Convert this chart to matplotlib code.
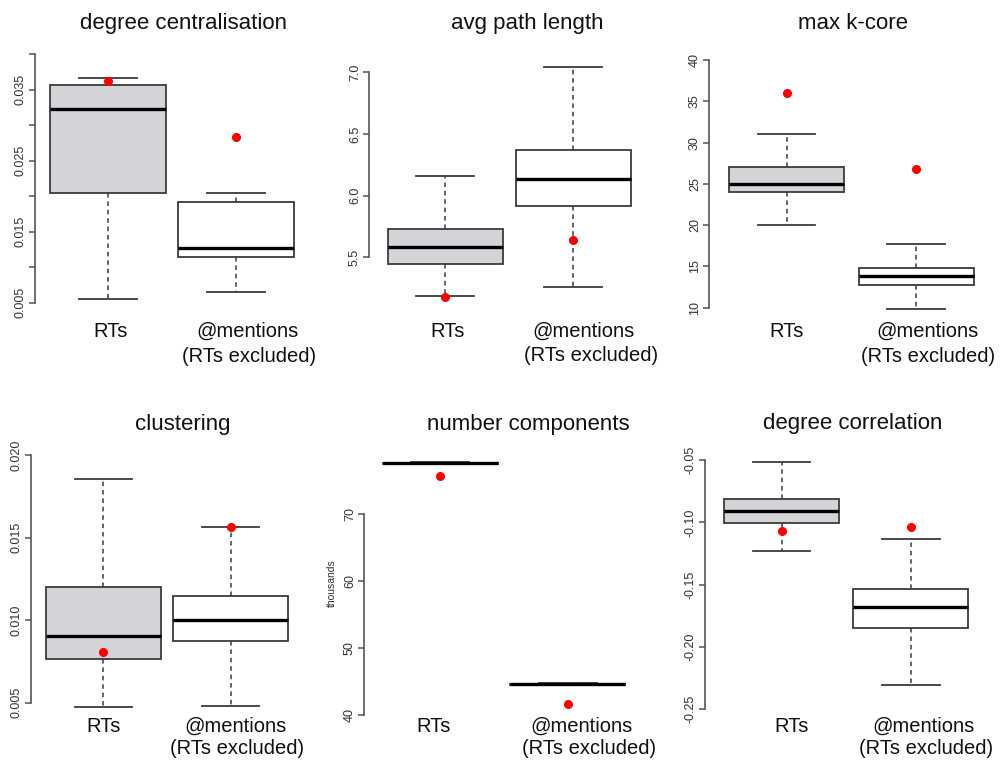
import matplotlib
matplotlib.use('Agg')
import matplotlib.pyplot as plt

plt.rcParams['font.family'] = ['Liberation Sans', 'DejaVu Sans']

W, H = 1001, 761

group_labels = ['RTs', '@mentions', '(RTs excluded)']

# five-number summaries: lower whisker, q1, median, q3, upper whisker
degcent_rts = [0.0055, 0.0205, 0.0323, 0.0357, 0.0366]
degcent_men = [0.0065, 0.0115, 0.0127, 0.0192, 0.0204]
degcent_obs = [0.0363, 0.0284]   # observed value (red dot), RTs / @mentions

pathlen_rts = [5.19, 5.445, 5.583, 5.729, 6.161]
pathlen_men = [5.261, 5.918, 6.135, 6.367, 7.04]
pathlen_obs = [5.18, 5.642]

kcore_rts = [20, 24, 25, 27, 31]
kcore_men = [9.8, 12.8, 13.8, 14.8, 17.7]
kcore_obs = [36, 26.8]

clust_rts = [0.00473, 0.00764, 0.00903, 0.0120, 0.01858]
clust_men = [0.00479, 0.00876, 0.01004, 0.01149, 0.01565]
clust_obs = [0.00806, 0.01567]

# number components, in thousands
ncomp_rts = [77.35, 77.42, 77.5, 77.58, 77.65]
ncomp_men = [44.45, 44.52, 44.58, 44.64, 44.7]
ncomp_obs = [75.6, 41.6]

degcorr_rts = [-0.1227, -0.1006, -0.0908, -0.0809, -0.0514]
degcorr_men = [-0.2304, -0.1846, -0.1679, -0.1537, -0.1133]
degcorr_obs = [-0.1068, -0.1039]

degcent_ticks = [0.005, 0.010, 0.015, 0.020, 0.025, 0.030, 0.035, 0.040]
degcent_ticklabels = ['0.005', '', '0.015', '', '0.025', '', '0.035', '']
pathlen_ticks = [5.5, 6.0, 6.5, 7.0]
pathlen_ticklabels = ['5.5', '6.0', '6.5', '7.0']
kcore_ticks = [10, 15, 20, 25, 30, 35, 40]
kcore_ticklabels = ['10', '15', '20', '25', '30', '35', '40']
clust_ticks = [0.005, 0.010, 0.015, 0.020]
clust_ticklabels = ['0.005', '0.010', '0.015', '0.020']
ncomp_ticks = [40, 50, 60, 70]
ncomp_ticklabels = ['40', '50', '60', '70']
degcorr_ticks = [-0.25, -0.20, -0.15, -0.10, -0.05]
degcorr_ticklabels = ['-0.25', '-0.20', '-0.15', '-0.10', '-0.05']

# pixel layout of each panel (the reference is a collage of R boxplots)
panels = [
    dict(title='degree centralisation', rts=degcent_rts, men=degcent_men, obs=degcent_obs,
         ticks=degcent_ticks, ticklabels=degcent_ticklabels,
         axis_x=35, map=(0.040, 54.3, 0.005, 302.7), c=(107.5, 235.5), bw=116,
         top=45, bottom=320, title_xy=(183, 29),
         lab_xy=[(111, 337), (248, 337), (249, 362)]),
    dict(title='avg path length', rts=pathlen_rts, men=pathlen_men, obs=pathlen_obs,
         ticks=pathlen_ticks, ticklabels=pathlen_ticklabels,
         axis_x=369.3, map=(7.0, 72.3, 5.5, 257.3), c=(445, 573), bw=115,
         top=45, bottom=320, title_xy=(527.5, 29),
         lab_xy=[(448, 337), (584, 337), (591, 361)]),
    dict(title='max k-core', rts=kcore_rts, men=kcore_men, obs=kcore_obs,
         ticks=kcore_ticks, ticklabels=kcore_ticklabels,
         axis_x=709.3, map=(40, 60, 10, 307.7), c=(786.7, 916), bw=115,
         top=45, bottom=320, title_xy=(852.5, 29),
         lab_xy=[(786.7, 337), (928, 337), (928, 362)]),
    dict(title='clustering', rts=clust_rts, men=clust_men, obs=clust_obs,
         ticks=clust_ticks, ticklabels=clust_ticklabels,
         axis_x=31, map=(0.020, 455.3, 0.005, 702.7), c=(103.3, 230.5), bw=115,
         top=440, bottom=715, title_xy=(182.5, 430),
         lab_xy=[(103.3, 732), (235, 732), (236.7, 754)]),
    dict(title='number components', rts=ncomp_rts, men=ncomp_men, obs=ncomp_obs,
         ticks=ncomp_ticks, ticklabels=ncomp_ticklabels,
         axis_x=364.3, map=(70, 513.7, 40, 715), c=(440.2, 567.8), bw=115,
         top=440, bottom=715, title_xy=(528.7, 430),
         lab_xy=[(433.3, 732), (581.7, 732), (589, 754)]),
    dict(title='degree correlation', rts=degcorr_rts, men=degcorr_men, obs=degcorr_obs,
         ticks=degcorr_ticks, ticklabels=degcorr_ticklabels,
         axis_x=705, map=(-0.05, 460.3, -0.25, 709), c=(781.7, 910.8), bw=115,
         top=440, bottom=715, title_xy=(852.5, 429),
         lab_xy=[(792, 732), (923, 732), (925.8, 754)]),
]

EDGE = '#3c3c3c'
FILLS = ['#d4d3d8', 'white']

fig = plt.figure(figsize=(W / 100, H / 100), dpi=100)


def fx(x):
    return x / W


def fy(y):
    return 1 - y / H


def draw_panel(p):
    left = p['axis_x']
    right = left + 290
    ax = fig.add_axes([fx(left), fy(p['bottom']), (right - left) / W, (p['bottom'] - p['top']) / H])
    ax.patch.set_alpha(0)

    # linear mapping pixel -> value, taken from two tick marks
    va, ya, vb, yb = p['map']
    slope = (vb - va) / (yb - ya)
    ax.set_ylim(va + (p['bottom'] - ya) * slope, va + (p['top'] - ya) * slope)
    c1, c2 = p['c']
    ax.set_xlim(1 + (left - c1) / (c2 - c1), 1 + (right - c1) / (c2 - c1))
    width = p['bw'] / (c2 - c1)

    stats = []
    for s in (p['rts'], p['men']):
        stats.append(dict(whislo=s[0], q1=s[1], med=s[2], q3=s[3], whishi=s[4], fliers=[]))
    parts = ax.bxp(stats, positions=[1, 2], widths=width, capwidths=width / 2,
                   patch_artist=True, showfliers=False,
                   boxprops=dict(edgecolor=EDGE, linewidth=1.3),
                   medianprops=dict(color='black', linewidth=2.4),
                   whiskerprops=dict(color=EDGE, linewidth=1.1, linestyle=(0, (3, 2.5))),
                   capprops=dict(color=EDGE, linewidth=1.3))
    for box, col in zip(parts['boxes'], FILLS):
        box.set_facecolor(col)

    ax.plot([1, 2], p['obs'], 'o', color='#ff0000', markersize=5.5, zorder=5, clip_on=False)

    for side in ('top', 'right', 'bottom'):
        ax.spines[side].set_visible(False)
    ax.spines['left'].set_bounds(min(p['ticks']), max(p['ticks']))
    ax.spines['left'].set_color('#555555')
    ax.spines['left'].set_linewidth(1.2)
    ax.set_xticks([])
    ax.set_yticks(p['ticks'])
    ax.set_yticklabels(p['ticklabels'], rotation=90, va='center')
    ax.tick_params(axis='y', length=4, width=1.1, color='#555555', pad=2,
                   labelsize=9, labelcolor='#333333')

    fig.text(fx(p['title_xy'][0]), fy(p['title_xy'][1]), p['title'],
             ha='center', va='baseline', fontsize=16, color='#111111')
    for (x, y), lab in zip(p['lab_xy'], group_labels):
        fig.text(fx(x), fy(y), lab, ha='center', va='baseline', fontsize=14.5, color='#111111')


for p in panels:
    draw_panel(p)

fig.text(fx(331.7), fy(583), 'thousands', rotation=90, ha='center', va='center',
         fontsize=7.5, color='#333333')

fig.savefig('out.png', dpi=100)
